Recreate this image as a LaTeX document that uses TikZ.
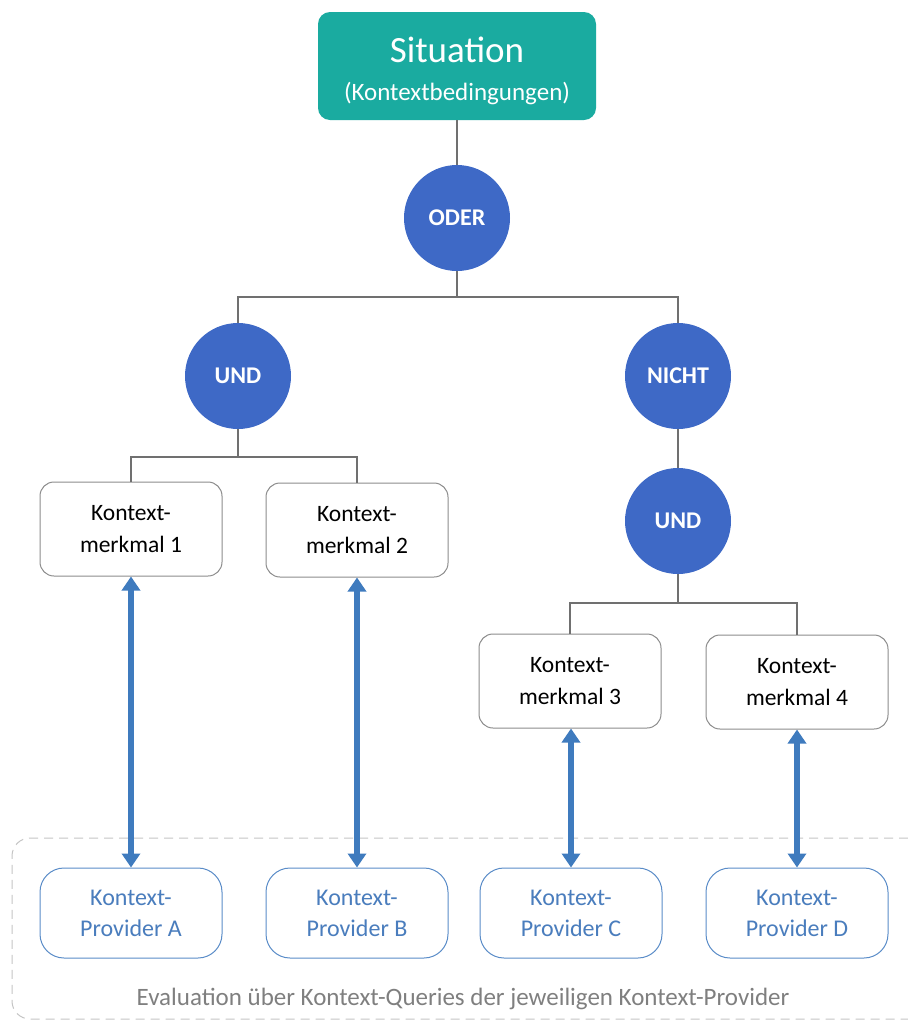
\documentclass[tikz,border=0pt]{standalone}
\usepackage{fontspec}
\setmainfont{Carlito}
\usetikzlibrary{arrows.meta}

\definecolor{teal1}{HTML}{1AABA0}
\definecolor{opblue}{HTML}{3E69C6}
\definecolor{linegray}{HTML}{707070}
\definecolor{boxgray}{HTML}{8C8C8C}
\definecolor{provblue}{HTML}{5A8CC8}
\definecolor{provtext}{HTML}{4A7DBD}
\definecolor{arrowblue}{HTML}{3F7BBE}
\definecolor{dashgray}{HTML}{C4C4C4}
\definecolor{evaltext}{HTML}{7F7F7F}

\begin{document}
\begin{tikzpicture}[x=1pt,y=-1pt,
  situation/.style={draw=none, fill=teal1, rounded corners=12pt,
    minimum width=278pt, minimum height=108pt, text=white, align=center, inner sep=0pt,
    font=\fontsize{25}{38}\selectfont},
  op/.style={circle, fill=opblue, minimum size=106pt, inner sep=0pt,
    text=white, font=\fontsize{24}{26}\selectfont\bfseries},
  feature/.style={draw=boxgray, line width=1pt, fill=white, rounded corners=14pt,
    minimum width=182pt, minimum height=94pt, align=center, inner sep=0pt,
    font=\fontsize{23.5}{32}\selectfont},
  provider/.style={draw=provblue, line width=1pt, fill=white, rounded corners=24pt,
    minimum width=182pt, minimum height=90pt, align=center, inner sep=0pt,
    text=provtext, font=\fontsize{24}{31}\selectfont},
  tree/.style={draw=linegray, line width=1.2pt},
  query/.style={draw=arrowblue, line width=5.5pt,
    {Triangle[length=14pt,width=18pt]}-{Triangle[length=14pt,width=18pt]}},
]
\useasboundingbox (0,0) rectangle (908,1021);

% evaluation frame (open to the right)
\draw[dashgray, line width=1pt, dash pattern=on 9pt off 6pt]
  (908,838) -- (30,838) arc[start angle=90, end angle=180, radius=18pt]
  -- (12,1001) arc[start angle=180, end angle=270, radius=18pt] -- (908,1019);

% nodes
\node[situation] (sit) at (457,66)
  {{\fontsize{37}{38}\selectfont\rule{0pt}{35pt}Situation}\\(Kontextbedingungen)};
\node[op] (oder) at (457,218) {ODER};
\node[op] (und1) at (238,376) {UND};
\node[op] (nicht) at (678,376) {NICHT};
\node[op] (und2) at (678,521) {UND};

\node[feature] (km1) at (131,529) {Kontext-\\merkmal 1};
\node[feature] (km2) at (357,530) {Kontext-\\merkmal 2};
\node[feature] (km3) at (570,681) {Kontext-\\merkmal 3};
\node[feature] (km4) at (797,682) {Kontext-\\merkmal 4};

\node[provider] (pA) at (131,913) {Kontext-\\Provider A};
\node[provider] (pB) at (357,913) {Kontext-\\Provider B};
\node[provider] (pC) at (571,913) {Kontext-\\Provider C};
\node[provider] (pD) at (797,913) {Kontext-\\Provider D};

\node[text=evaltext, font=\fontsize{25}{28}\selectfont] (eval) at (463,999)
  {Evaluation über Kontext-Queries der jeweiligen Kontext-Provider};

% junctions
\coordinate (j0) at (457,297);
\coordinate (j1) at (238,457);
\coordinate (j2) at (678,603);

% tree connectors
\draw[tree] (sit) -- (oder);
\draw[tree] (oder) -- (j0) -| (und1);
\draw[tree] (j0) -| (nicht);
\draw[tree] (und1) -- (j1) -| (km1);
\draw[tree] (j1) -| (km2);
\draw[tree] (nicht) -- (und2);
\draw[tree] (und2) -- (j2) -| (km3);
\draw[tree] (j2) -| (km4);

% query arrows
\draw[query] (km1) -- (pA);
\draw[query] (km2) -- (pB);
\draw[query] (km3.south -| pC) -- (pC);
\draw[query] (km4) -- (pD);
\end{tikzpicture}
\end{document}
